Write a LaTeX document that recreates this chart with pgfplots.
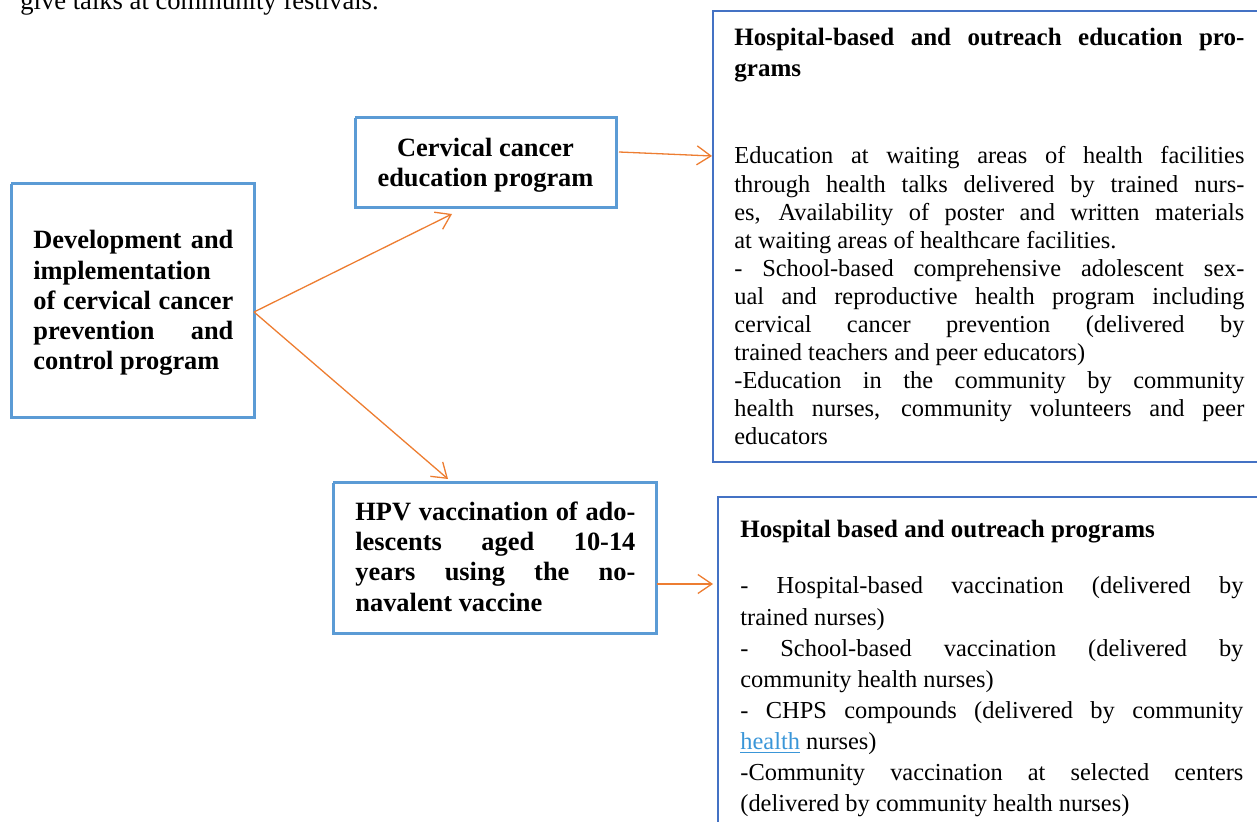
\documentclass[border=0pt]{standalone}
\usepackage{pgfplots}
\pgfplotsset{compat=1.18}
\usetikzlibrary{arrows.meta}
\usepackage{fontspec}
\setmainfont{Liberation Serif}
\definecolor{lightbox}{HTML}{5B9BD5}
\definecolor{darkbox}{HTML}{4472C4}
\definecolor{arr}{HTML}{ED7D31}
\definecolor{linkblue}{HTML}{3A96D8}
\newcommand{\reg}{\fontsize{12.2}{14}\selectfont}
\newcommand{\bld}{\fontsize{13.2}{15}\selectfont\bfseries}
\newcommand{\ttl}{\fontsize{12.5}{15}\selectfont\bfseries}
% justified line, left line
\newcommand{\J}[5]{\node[anchor=base west, inner sep=0pt] at (axis cs:#1,#2) {#4\makebox[#3][s]{#5}};}
\newcommand{\Lt}[4]{\node[anchor=base west, inner sep=0pt] at (axis cs:#1,#2) {#3#4};}
\begin{document}
\begin{tikzpicture}
\begin{axis}[scale only axis, width=628.5pt, height=411pt,
  xmin=0, xmax=1257, ymin=0, ymax=822, y dir=reverse,
  hide axis, clip=false]
\coordinate (TL) at (axis cs:0,0);
\coordinate (BR) at (axis cs:1257,822);
% boxes
\addplot[lightbox, line width=1.5pt, line join=miter] coordinates {(11,184) (254,184) (254,418) (11,418) (11,184)};
\addplot[lightbox, line width=1.5pt, line join=miter] coordinates {(355,118) (616,118) (616,208) (355,208) (355,118)};
\addplot[lightbox, line width=1.5pt, line join=miter] coordinates {(333,483) (656,483) (656,633) (333,633) (333,483)};
\addplot[darkbox, line width=1.2pt, line join=miter] coordinates {(1275,11) (713,11) (713,462) (1275,462)};
\addplot[darkbox, line width=1.2pt, line join=miter] coordinates {(1275,497) (718,497) (718,840)};
% arrows
\addplot[arr, line width=0.65pt, -{Straight Barb[length=7pt,width=9.5pt]}] coordinates {(254,312) (452,214)};
\addplot[arr, line width=0.65pt, -{Straight Barb[length=7pt,width=9.5pt]}] coordinates {(254,312) (448,479)};
\addplot[arr, line width=0.65pt, -{Straight Barb[length=7pt,width=9.5pt]}] coordinates {(619,152) (712,156)};
\addplot[arr, line width=0.65pt, -{Straight Barb[length=7pt,width=9.5pt]}] coordinates {(657,584) (713,584)};
% cut-off text at top
\Lt{20}{9.5}{\fontsize{13.3}{16}\selectfont}{give talks at community festivals.}
% box 1
\J{33}{249}{100pt}{\bld}{Development and}
\Lt{33}{280}{\bld}{implementation}
\J{33}{310}{100pt}{\bld}{of cervical cancer}
\J{33}{340}{100pt}{\bld}{prevention and}
\Lt{33}{370}{\bld}{control program}
% box 2
\node[anchor=base, inner sep=0pt] at (axis cs:485.5,157) {\bld Cervical cancer};
\node[anchor=base, inner sep=0pt] at (axis cs:485.5,187) {\bld education program};
% box 4
\J{355}{521}{140pt}{\bld}{HPV vaccination of ado-}
\J{355}{551}{140pt}{\bld}{lescents aged 10-14}
\J{355}{581}{140pt}{\bld}{years using the no-}
\Lt{355}{611}{\bld}{navalent vaccine}
% box 3
\J{734}{46}{255pt}{\ttl}{Hospital-based and outreach education pro-}
\Lt{734}{77}{\ttl}{grams}
\J{734}{164}{255pt}{\reg}{Education at waiting areas of health facilities}
\J{734}{192.1}{255pt}{\reg}{through health talks delivered by trained nurs-}
\J{734}{220.2}{255pt}{\reg}{es, Availability of poster and written materials}
\Lt{734}{248.3}{\reg}{at waiting areas of healthcare facilities.}
\J{734}{276.4}{255pt}{\reg}{- School-based comprehensive adolescent sex-}
\J{734}{304.5}{255pt}{\reg}{ual and reproductive health program including}
\J{734}{332.6}{255pt}{\reg}{cervical cancer prevention (delivered by}
\Lt{734}{360.7}{\reg}{trained teachers and peer educators)}
\J{734}{388.8}{255pt}{\reg}{-Education in the community by community}
\J{734}{416.9}{255pt}{\reg}{health nurses, community volunteers and peer}
\Lt{734}{445}{\reg}{educators}
% box 5
\Lt{740}{538}{\ttl}{Hospital based and outreach programs}
\J{740}{594}{251.5pt}{\reg}{- Hospital-based vaccination (delivered by}
\Lt{740}{625}{\reg}{trained nurses)}
\J{740}{656}{251.5pt}{\reg}{- School-based vaccination (delivered by}
\Lt{740}{687}{\reg}{community health nurses)}
\J{740}{718}{251.5pt}{\reg}{- CHPS compounds (delivered by community}
\Lt{740}{749}{\reg}{\textcolor{linkblue}{\underline{health}} nurses)}
\J{740}{780}{251.5pt}{\reg}{-Community vaccination at selected centers}
\Lt{740}{811}{\reg}{(delivered by community health nurses)}
\end{axis}
\pgfresetboundingbox
\path[use as bounding box] (TL) rectangle (BR);
\end{tikzpicture}
\end{document}
